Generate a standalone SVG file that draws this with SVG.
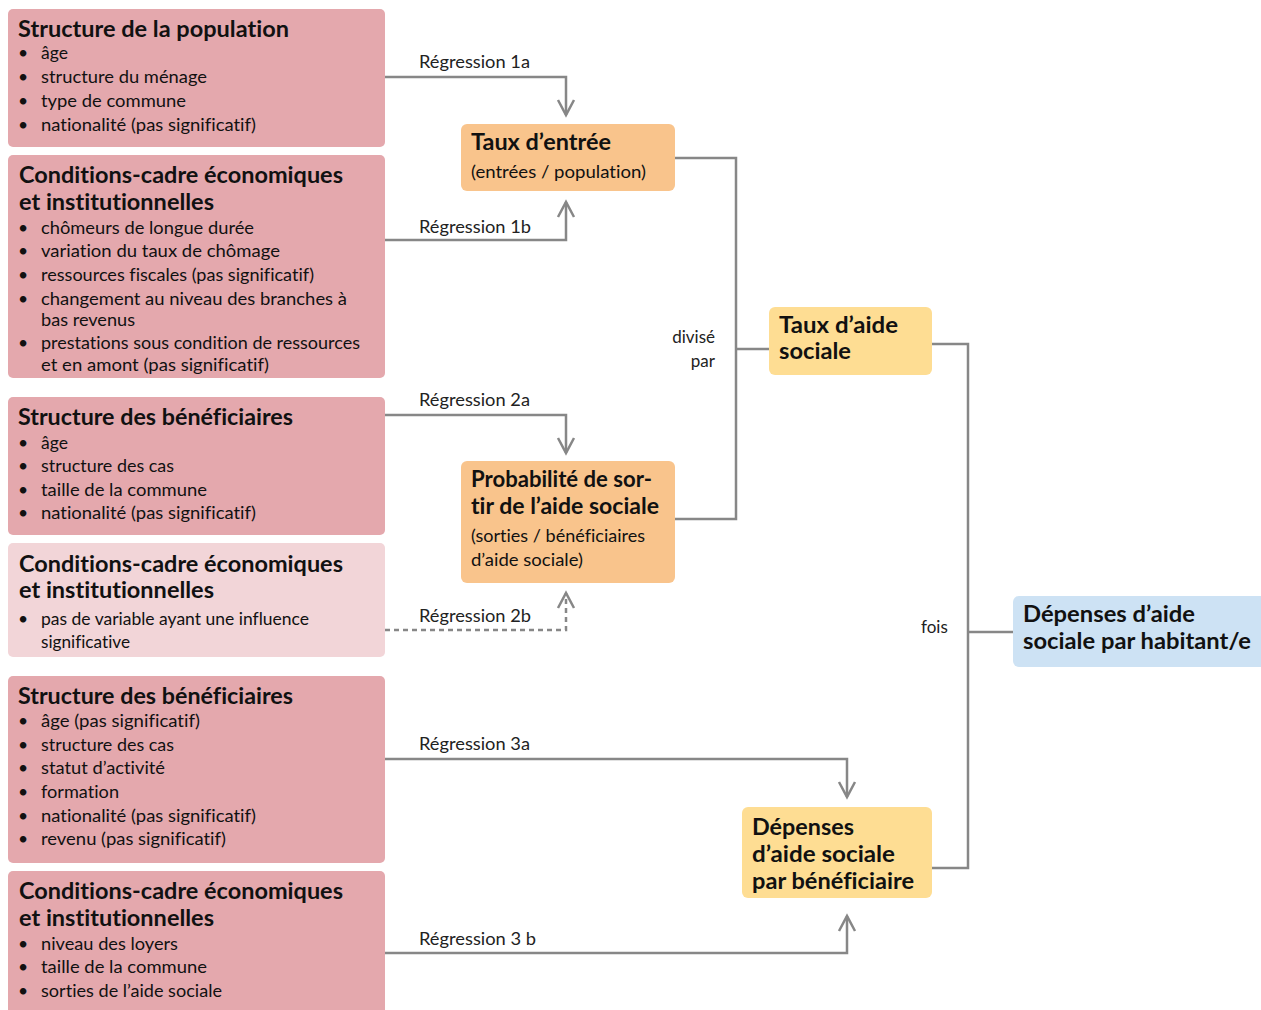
<svg xmlns="http://www.w3.org/2000/svg" width="1261" height="1010" viewBox="0 0 1261 1010">
<style>
.src{fill:#e4a8ad}
.srcl{fill:#f2d5d8}
.mid{fill:#f9c48c}
.res{fill:#fedd93}
.fin{fill:#cde2f4}
text{font-family:Lato,"Open Sans","Liberation Sans",sans-serif;fill:#111;font-variant-ligatures:none;font-feature-settings:"liga" 0,"dlig" 0}
.h{font-weight:bold;font-size:22px}
.b{font-size:17.5px}
.bul{font-size:17.5px;text-anchor:middle}
.lbl{font-size:17px;fill:#222}
.ln{fill:none;stroke:#878787;stroke-width:2.5}
.dash{stroke-dasharray:5 4}
</style>
<defs>
<marker id="arr" markerUnits="userSpaceOnUse" markerWidth="24" markerHeight="24" refX="0" refY="0" viewBox="-18 -12 24 24" orient="auto" overflow="visible">
<path d="M-15,-8 L0,0 L-15,8" fill="none" stroke="#878787" stroke-width="2.5" stroke-dasharray="none"/>
</marker>
</defs>
<rect width="1261" height="1010" fill="#fff"/>

<g id="connectors">
<path class="ln" d="M385,77 H566 V115" marker-end="url(#arr)"/>
<path class="ln" d="M385,240 H566 V202" marker-end="url(#arr)"/>
<path class="ln" d="M385,415 H566 V453" marker-end="url(#arr)"/>
<path class="ln dash" d="M385,630 H566 V593" marker-end="url(#arr)"/>
<path class="ln" d="M385,759 H847 V797" marker-end="url(#arr)"/>
<path class="ln" d="M385,953 H847 V916" marker-end="url(#arr)"/>
<path class="ln" d="M675,158 H736 V519 H675"/>
<path class="ln" d="M736,349 H769"/>
<path class="ln" d="M932,344 H968 V868 H932"/>
<path class="ln" d="M968,632 H1013"/>
<text class="lbl" x="419" y="68" textLength="111" lengthAdjust="spacingAndGlyphs">Régression 1a</text>
<text class="lbl" x="419" y="233" textLength="112" lengthAdjust="spacingAndGlyphs">Régression 1b</text>
<text class="lbl" x="419" y="406" textLength="111" lengthAdjust="spacingAndGlyphs">Régression 2a</text>
<text class="lbl" x="419" y="622" textLength="112" lengthAdjust="spacingAndGlyphs">Régression 2b</text>
<text class="lbl" x="419" y="750" textLength="111" lengthAdjust="spacingAndGlyphs">Régression 3a</text>
<text class="lbl" x="419" y="945" textLength="117" lengthAdjust="spacingAndGlyphs">Régression 3 b</text>
<text class="lbl" x="715" y="343" text-anchor="end">divisé</text>
<text class="lbl" x="715" y="367" text-anchor="end">par</text>
<text class="lbl" x="921" y="633">fois</text>
</g>

<g id="n-structure-population">
<rect class="src" x="8" y="9" width="377" height="138" rx="5"/>
<text class="h" x="18" y="37" textLength="271" lengthAdjust="spacingAndGlyphs">Structure de la population</text>
<text class="bul" x="23" y="59">•</text><text class="b" x="41" y="59">âge</text>
<text class="bul" x="23" y="83">•</text><text class="b" x="41" y="83" textLength="166" lengthAdjust="spacingAndGlyphs">structure du ménage</text>
<text class="bul" x="23" y="107">•</text><text class="b" x="41" y="107" textLength="145" lengthAdjust="spacingAndGlyphs">type de commune</text>
<text class="bul" x="23" y="131">•</text><text class="b" x="41" y="131" textLength="215" lengthAdjust="spacingAndGlyphs">nationalité (pas significatif)</text>
</g>

<g id="n-conditions-1">
<rect class="src" x="8" y="155" width="377" height="223" rx="5"/>
<text class="h" x="19" y="183" textLength="324" lengthAdjust="spacingAndGlyphs">Conditions-cadre économiques</text>
<text class="h" x="19" y="210" textLength="195" lengthAdjust="spacingAndGlyphs">et institutionnelles</text>
<text class="bul" x="23" y="234">•</text><text class="b" x="41" y="234" textLength="213" lengthAdjust="spacingAndGlyphs">chômeurs de longue durée</text>
<text class="bul" x="23" y="257">•</text><text class="b" x="41" y="257" textLength="239" lengthAdjust="spacingAndGlyphs">variation du taux de chômage</text>
<text class="bul" x="23" y="281">•</text><text class="b" x="41" y="281" textLength="273" lengthAdjust="spacingAndGlyphs">ressources fiscales (pas significatif)</text>
<text class="bul" x="23" y="305">•</text><text class="b" x="41" y="305" textLength="306" lengthAdjust="spacingAndGlyphs">changement au niveau des branches à</text>
<text class="b" x="41" y="326" textLength="94" lengthAdjust="spacingAndGlyphs">bas revenus</text>
<text class="bul" x="23" y="349">•</text><text class="b" x="41" y="349" textLength="319" lengthAdjust="spacingAndGlyphs">prestations sous condition de ressources</text>
<text class="b" x="41" y="371" textLength="228" lengthAdjust="spacingAndGlyphs">et en amont (pas significatif)</text>
</g>

<g id="n-structure-beneficiaires-1">
<rect class="src" x="8" y="397" width="377" height="138" rx="5"/>
<text class="h" x="18" y="425" textLength="275" lengthAdjust="spacingAndGlyphs">Structure des bénéficiaires</text>
<text class="bul" x="23" y="449">•</text><text class="b" x="41" y="449">âge</text>
<text class="bul" x="23" y="472">•</text><text class="b" x="41" y="472" textLength="133" lengthAdjust="spacingAndGlyphs">structure des cas</text>
<text class="bul" x="23" y="496">•</text><text class="b" x="41" y="496" textLength="166" lengthAdjust="spacingAndGlyphs">taille de la commune</text>
<text class="bul" x="23" y="519">•</text><text class="b" x="41" y="519" textLength="215" lengthAdjust="spacingAndGlyphs">nationalité (pas significatif)</text>
</g>

<g id="n-conditions-2">
<rect class="srcl" x="8" y="543" width="377" height="114" rx="5"/>
<text class="h" x="19" y="572" textLength="324" lengthAdjust="spacingAndGlyphs">Conditions-cadre économiques</text>
<text class="h" x="19" y="598" textLength="195" lengthAdjust="spacingAndGlyphs">et institutionnelles</text>
<text class="bul" x="23" y="625">•</text><text class="b" x="41" y="625" textLength="268" lengthAdjust="spacingAndGlyphs">pas de variable ayant une influence</text>
<text class="b" x="41" y="648" textLength="89" lengthAdjust="spacingAndGlyphs">significative</text>
</g>

<g id="n-structure-beneficiaires-2">
<rect class="src" x="8" y="676" width="377" height="187" rx="5"/>
<text class="h" x="18" y="704" textLength="275" lengthAdjust="spacingAndGlyphs">Structure des bénéficiaires</text>
<text class="bul" x="23" y="727">•</text><text class="b" x="41" y="727" textLength="159" lengthAdjust="spacingAndGlyphs">âge (pas significatif)</text>
<text class="bul" x="23" y="751">•</text><text class="b" x="41" y="751" textLength="133" lengthAdjust="spacingAndGlyphs">structure des cas</text>
<text class="bul" x="23" y="774">•</text><text class="b" x="41" y="774" textLength="124" lengthAdjust="spacingAndGlyphs">statut d’activité</text>
<text class="bul" x="23" y="798">•</text><text class="b" x="41" y="798" textLength="78" lengthAdjust="spacingAndGlyphs">formation</text>
<text class="bul" x="23" y="822">•</text><text class="b" x="41" y="822" textLength="215" lengthAdjust="spacingAndGlyphs">nationalité (pas significatif)</text>
<text class="bul" x="23" y="845">•</text><text class="b" x="41" y="845" textLength="185" lengthAdjust="spacingAndGlyphs">revenu (pas significatif)</text>
</g>

<g id="n-conditions-3">
<rect class="src" x="8" y="871" width="377" height="150" rx="5"/>
<text class="h" x="19" y="899" textLength="324" lengthAdjust="spacingAndGlyphs">Conditions-cadre économiques</text>
<text class="h" x="19" y="926" textLength="195" lengthAdjust="spacingAndGlyphs">et institutionnelles</text>
<text class="bul" x="23" y="950">•</text><text class="b" x="41" y="950" textLength="137" lengthAdjust="spacingAndGlyphs">niveau des loyers</text>
<text class="bul" x="23" y="973">•</text><text class="b" x="41" y="973" textLength="166" lengthAdjust="spacingAndGlyphs">taille de la commune</text>
<text class="bul" x="23" y="997">•</text><text class="b" x="41" y="997" textLength="181" lengthAdjust="spacingAndGlyphs">sorties de l’aide sociale</text>
</g>

<g id="n-taux-entree">
<rect class="mid" x="461" y="124" width="214" height="67" rx="6"/>
<text class="h" x="471" y="150" textLength="140" lengthAdjust="spacingAndGlyphs">Taux d’entrée</text>
<text class="b" x="471" y="178" textLength="175" lengthAdjust="spacingAndGlyphs">(entrées / population)</text>
</g>

<g id="n-probabilite-sortie">
<rect class="mid" x="461" y="461" width="214" height="122" rx="6"/>
<text class="h" x="471" y="487" textLength="181" lengthAdjust="spacingAndGlyphs">Probabilité de sor-</text>
<text class="h" x="471" y="514" textLength="188" lengthAdjust="spacingAndGlyphs">tir de l’aide sociale</text>
<text class="b" x="471" y="542" textLength="174" lengthAdjust="spacingAndGlyphs">(sorties / bénéficiaires</text>
<text class="b" x="471" y="566" textLength="112" lengthAdjust="spacingAndGlyphs">d’aide sociale)</text>
</g>

<g id="n-taux-aide">
<rect class="res" x="769" y="307" width="163" height="68" rx="6"/>
<text class="h" x="779" y="333" textLength="119" lengthAdjust="spacingAndGlyphs">Taux d’aide</text>
<text class="h" x="779" y="359" textLength="72" lengthAdjust="spacingAndGlyphs">sociale</text>
</g>

<g id="n-depenses-beneficiaire">
<rect class="res" x="742" y="807" width="190" height="91" rx="6"/>
<text class="h" x="752" y="835" textLength="102" lengthAdjust="spacingAndGlyphs">Dépenses</text>
<text class="h" x="752" y="862" textLength="143" lengthAdjust="spacingAndGlyphs">d’aide sociale</text>
<text class="h" x="752" y="889" textLength="162" lengthAdjust="spacingAndGlyphs">par bénéficiaire</text>
</g>

<g id="n-depenses-habitant">
<rect class="fin" x="1013" y="596" width="260" height="71" rx="6"/>
<text class="h" x="1023" y="622" textLength="172" lengthAdjust="spacingAndGlyphs">Dépenses d’aide</text>
<text class="h" x="1023" y="649" textLength="228" lengthAdjust="spacingAndGlyphs">sociale par habitant/e</text>
</g>
</svg>
